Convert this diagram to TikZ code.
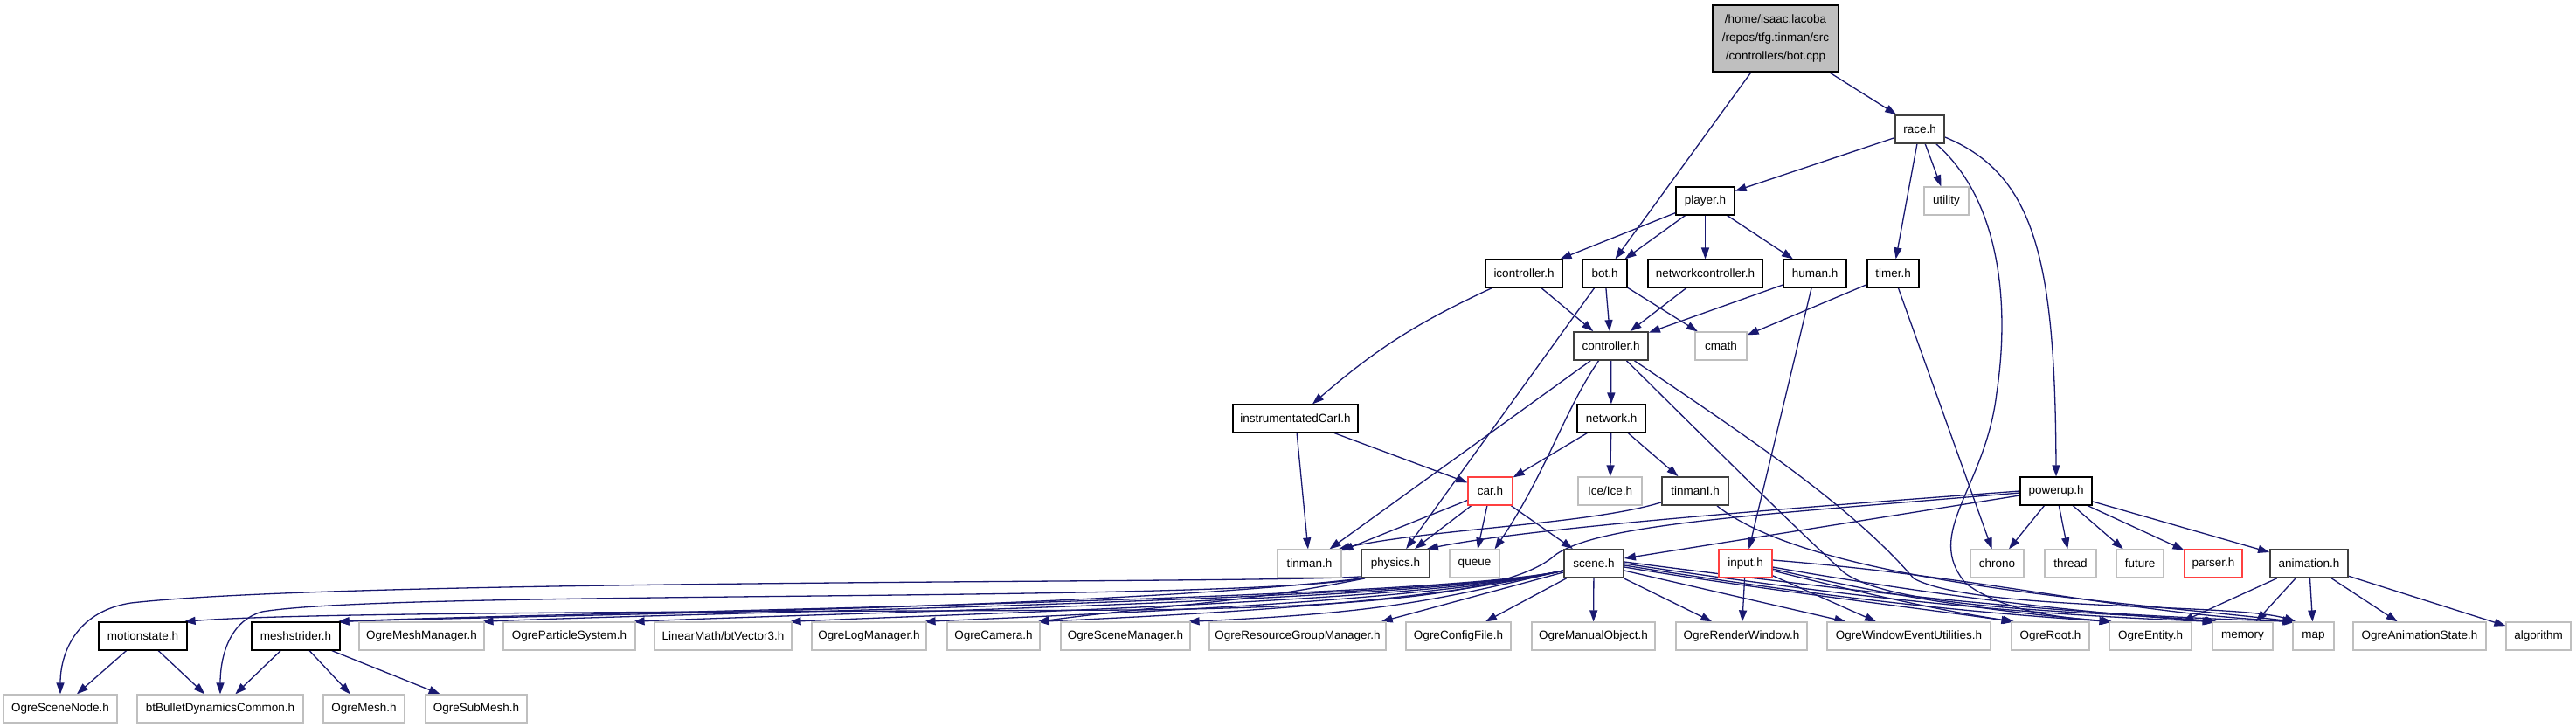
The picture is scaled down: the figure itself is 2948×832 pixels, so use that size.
\documentclass[tikz,border=0pt]{standalone}
\usepackage{fontspec}
\setmainfont{Liberation Sans}
\usetikzlibrary{arrows.meta}
\definecolor{edgec}{RGB}{25,25,112}
\definecolor{greyb}{RGB}{191,191,191}
\definecolor{darkb}{RGB}{64,64,64}
\definecolor{redb}{RGB}{255,64,64}
\definecolor{topfill}{RGB}{191,191,191}
\pgfdeclarelayer{back}
\pgfdeclarelayer{bg}
\pgfsetlayers{back,bg,main}
\begin{document}
\begin{tikzpicture}[x=1pt,y=1pt,
 nd/.style={rectangle, draw=black, fill=white, line width=1.2pt, minimum height=32pt, inner sep=0pt, font=\fontsize{13.5}{16}\selectfont},
 gr/.style={nd, draw=greyb},
 dk/.style={nd, draw=darkb, line width=1.8pt},
 rd/.style={nd, draw=redb},
 e/.style={draw=edgec, line width=1.3pt, -{Triangle[length=13pt,width=9pt]}},
]
\begin{pgfonlayer}{back}
\fill[white] (0,0) rectangle (2948,-832);
\end{pgfonlayer}
\useasboundingbox (0,0) rectangle (2948,-832);
% rank 0
\node[nd, fill=topfill, minimum width=144pt, minimum height=76pt, align=center, font=\fontsize{13.5}{21}\selectfont] (botcpp) at (2032,-44) {/home/isaac.lacoba\\/repos/tfg.tinman/src\\/controllers/bot.cpp};
% rank 1
\node[dk, minimum width=56pt] (race) at (2197,-148) {race.h};
% rank 2
\node[nd, minimum width=67pt] (player) at (1951.5,-230) {player.h};
\node[gr, minimum width=51pt] (utility) at (2227.5,-230) {utility};
% rank 3
\node[nd, minimum width=88pt] (icontroller) at (1744,-313) {icontroller.h};
\node[nd, minimum width=51pt] (bot) at (1836.5,-313) {bot.h};
\node[nd, minimum width=131pt] (netctrl) at (1951.5,-313) {networkcontroller.h};
\node[nd, minimum width=72pt] (human) at (2077,-313) {human.h};
\node[nd, minimum width=59pt] (timer) at (2166.5,-313) {timer.h};
% rank 4
\node[dk, minimum width=85pt] (controller) at (1843.5,-396) {controller.h};
\node[gr, minimum width=59pt] (cmath) at (1969.5,-396) {cmath};
% rank 5
\node[nd, minimum width=143pt] (instr) at (1482.5,-479) {instrumentatedCarI.h};
\node[nd, minimum width=78pt] (network) at (1844,-479) {network.h};
% rank 6
\node[rd, minimum width=51pt] (car) at (1705.5,-562) {car.h};
\node[gr, minimum width=73pt] (ice) at (1842.5,-562) {Ice/Ice.h};
\node[dk, minimum width=76pt] (tinmanI) at (1940,-562) {tinmanI.h};
\node[nd, minimum width=82pt] (powerup) at (2353,-562) {powerup.h};
% rank 7
\node[gr, minimum width=73pt] (tinman) at (1498.5,-645) {tinman.h};
\node[dk, minimum width=78pt] (physics) at (1597,-645) {physics.h};
\node[gr, minimum width=57pt] (queue) at (1687.5,-645) {queue};
\node[dk, minimum width=68pt] (scene) at (1824,-645) {scene.h};
\node[rd, minimum width=61pt] (input) at (1997.5,-645) {input.h};
\node[gr, minimum width=61pt] (chrono) at (2285.5,-645) {chrono};
\node[gr, minimum width=59pt] (thread) at (2369.5,-645) {thread};
\node[gr, minimum width=54pt] (future) at (2449,-645) {future};
\node[rd, minimum width=66pt] (parser) at (2533,-645) {parser.h};
\node[dk, minimum width=89pt] (animation) at (2642.5,-645) {animation.h};
% rank 8
\node[nd, minimum width=101pt] (motionstate) at (163.5,-728) {motionstate.h};
\node[nd, minimum width=101pt] (meshstrider) at (338.5,-728) {meshstrider.h};
\node[gr, minimum width=143pt] (ogreMM) at (482.5,-728) {OgreMeshManager.h};
\node[gr, minimum width=151pt] (ogrePS) at (651.5,-728) {OgreParticleSystem.h};
\node[gr, minimum width=157pt] (linmath) at (827.5,-728) {LinearMath/btVector3.h};
\node[gr, minimum width=131pt] (ogreLog) at (994.5,-728) {OgreLogManager.h};
\node[gr, minimum width=106pt] (ogreCam) at (1137,-728) {OgreCamera.h};
\node[gr, minimum width=148pt] (ogreSM) at (1288,-728) {OgreSceneManager.h};
\node[gr, minimum width=202pt] (ogreRGM) at (1485,-728) {OgreResourceGroupManager.h};
\node[gr, minimum width=120pt] (ogreCF) at (1669,-728) {OgreConfigFile.h};
\node[gr, minimum width=141pt] (ogreMO) at (1823.5,-728) {OgreManualObject.h};
\node[gr, minimum width=150pt] (ogreRW) at (1993,-728) {OgreRenderWindow.h};
\node[gr, minimum width=187pt] (ogreWEU) at (2184.5,-728) {OgreWindowEventUtilities.h};
\node[gr, minimum width=89pt] (ogreRoot) at (2346.5,-728) {OgreRoot.h};
\node[gr, minimum width=94pt] (ogreEnt) at (2461,-728) {OgreEntity.h};
\node[gr, minimum width=69pt] (memory) at (2566.5,-728) {memory};
\node[gr, minimum width=47pt] (map) at (2647.5,-728) {map};
\node[gr, minimum width=152pt] (ogreAS) at (2769,-728) {OgreAnimationState.h};
\node[gr, minimum width=74pt] (algorithm) at (2905,-728) {algorithm};
% rank 9
\node[gr, minimum width=130pt] (ogreSN) at (69,-811) {OgreSceneNode.h};
\node[gr, minimum width=190pt] (btBullet) at (252,-811) {btBulletDynamicsCommon.h};
\node[gr, minimum width=93pt] (ogreMesh) at (416.5,-811) {OgreMesh.h};
\node[gr, minimum width=116pt] (ogreSubMesh) at (545,-811) {OgreSubMesh.h};

\begin{pgfonlayer}{bg}
\draw[e] (botcpp) -- (bot);
\draw[e] (botcpp) -- (race);
\draw[e] (race) -- (player);
\draw[e] (race) -- (utility);
\draw[e] (race) -- (timer);
\draw[e] ([yshift=-9pt]race.east) .. controls (2330,-200) and (2352,-300) .. (powerup.north);
\draw[e] ([xshift=-10pt]race.south east) .. controls (2290,-230) and (2300,-350) .. (2285,-450) .. controls (2272,-560) and (2200,-610) .. (2250,-668) .. controls (2300,-705) and (2380,-708) .. ([xshift=4pt]ogreEnt.north west);
\draw[e] (player) -- (icontroller);
\draw[e] (player) -- (bot);
\draw[e] (player) -- (netctrl);
\draw[e] (player) -- (human);
\draw[e] (bot) -- (controller);
\draw[e] (bot) -- (cmath);
\draw[e] (bot) -- (physics);
\draw[e] (icontroller) -- (controller);
\draw[e] (icontroller) to[bend right=8] (instr);
\draw[e] (netctrl) -- (controller);
\draw[e] (human) -- (controller);
\draw[e] (human) -- (input);
\draw[e] (timer) -- (cmath);
\draw[e] (timer) -- (chrono);
\draw[e] (controller) -- (network);
\draw[e] (controller) -- (tinman);
\draw[e] ([xshift=-14pt]controller.south) .. controls (1790,-470) and (1770,-540) .. ([xshift=-6pt]queue.north east);
\draw[e] ([xshift=18pt]controller.south) .. controls (1960,-510) and (2050,-600) .. (2110,-655) .. controls (2170,-700) and (2420,-700) .. ([xshift=6pt]memory.north west);
\draw[e] ([xshift=27pt]controller.south) .. controls (2000,-500) and (2120,-580) .. (2190,-662) .. controls (2260,-700) and (2560,-690) .. ([xshift=4pt]map.north west);
\draw[e] (network) -- (car);
\draw[e] (network) -- (ice);
\draw[e] (network) -- (tinmanI);
\draw[e] (instr) -- (tinman);
\draw[e] (instr) -- (car);
\draw[e] (car) -- (tinman);
\draw[e] (car) -- (physics);
\draw[e] (car) -- (queue);
\draw[e] (car) -- (scene);
\draw[e] ([yshift=4pt]tinmanI.south west) .. controls (1820,-600) and (1640,-605) .. ([xshift=-4pt]tinman.north east);
\draw[e] ([xshift=25pt]tinmanI.south) .. controls (2080,-670) and (2450,-690) .. ([xshift=2pt]map.north west);
\draw[e] (powerup.west) .. controls (2000,-585) and (1750,-605) .. ([xshift=-4pt]physics.north east);
\draw[e] ([yshift=-5pt]powerup.west) -- ([yshift=6pt]scene.east);
\draw[e] ([yshift=-2pt]powerup.west) .. controls (2000,-590) and (1830,-600) .. (1780,-635) .. controls (1730,-680) and (1560,-695) .. (1300,-698) .. controls (900,-700) and (350,-700) .. ([xshift=-4pt]motionstate.north east);
\draw[e] (powerup) -- (chrono);
\draw[e] (powerup) -- (thread);
\draw[e] (powerup) -- (future);
\draw[e] (powerup) -- (parser);
\draw[e] (powerup) -- (animation);
\draw[e] ([yshift=2pt]physics.south west) .. controls (1450,-668) and (400,-662) .. (150,-690) .. controls (85,-700) and (69,-750) .. (ogreSN.north);
\draw[e] ([xshift=3pt]physics.south west) .. controls (1400,-690) and (450,-675) .. (300,-700) .. controls (258,-712) and (252,-760) .. (btBullet.north);
\draw[e] ([xshift=5pt]physics.south west) .. controls +(-150,-30) and +(150,20) .. ([xshift=-3pt]ogreCam.north east);
\draw[e] ([xshift=2pt]physics.south west) .. controls +(-300,-35) and +(250,8) .. ([xshift=-3pt]meshstrider.north east);
\foreach \t in {meshstrider,ogreMM,ogrePS,linmath,ogreLog,ogreCam,ogreSM}{
  \draw[e] ([yshift=-8pt]scene.west) .. controls +(-150,-35) and +(220,10) .. ([xshift=-3pt]\t.north east);
}
\draw[e] ([yshift=-10pt]scene.west) -- ([xshift=-6pt]ogreRGM.north east);
\draw[e] (scene) -- (ogreCF);
\draw[e] (scene) -- (ogreMO);
\draw[e] (scene) -- (ogreRW);
\draw[e] (scene) -- (ogreWEU);
\draw[e] ([yshift=-4pt]scene.east) .. controls +(150,-25) and +(-80,12) .. ([xshift=2pt]ogreRoot.north west);
\draw[e] ([yshift=-2pt]scene.east) .. controls +(250,-40) and +(-150,10) .. ([xshift=2pt]ogreEnt.north west);
\draw[e] (scene.east) .. controls +(300,-45) and +(-200,8) .. ([xshift=2pt]memory.north west);
\draw[e] ([yshift=2pt]scene.east) .. controls +(350,-45) and +(-250,8) .. ([xshift=2pt]map.north west);
\draw[e] (input) -- (ogreRW);
\draw[e] (input) -- (ogreWEU);
\draw[e] ([yshift=-8pt]input.east) .. controls +(120,-30) and +(-80,12) .. ([xshift=4pt]ogreRoot.north west);
\draw[e] ([yshift=-6pt]input.east) .. controls +(150,-35) and +(-120,10) .. ([xshift=4pt]ogreEnt.north west);
\draw[e] ([yshift=-4pt]input.east) .. controls +(200,-35) and +(-150,10) .. ([xshift=4pt]memory.north west);
\draw[e] ([yshift=4pt]input.east) .. controls +(250,-20) and +(-200,10) .. ([xshift=4pt]map.north west);
\draw[e] (animation) -- (ogreEnt);
\draw[e] (animation) -- (memory);
\draw[e] (animation) -- (map);
\draw[e] (animation) -- (ogreAS);
\draw[e] (animation) -- (algorithm);
\draw[e] (motionstate) -- (ogreSN);
\draw[e] (motionstate) -- (btBullet);
\draw[e] (meshstrider) -- (btBullet);
\draw[e] (meshstrider) -- (ogreMesh);
\draw[e] (meshstrider) -- (ogreSubMesh);
\end{pgfonlayer}
\end{tikzpicture}
\end{document}
